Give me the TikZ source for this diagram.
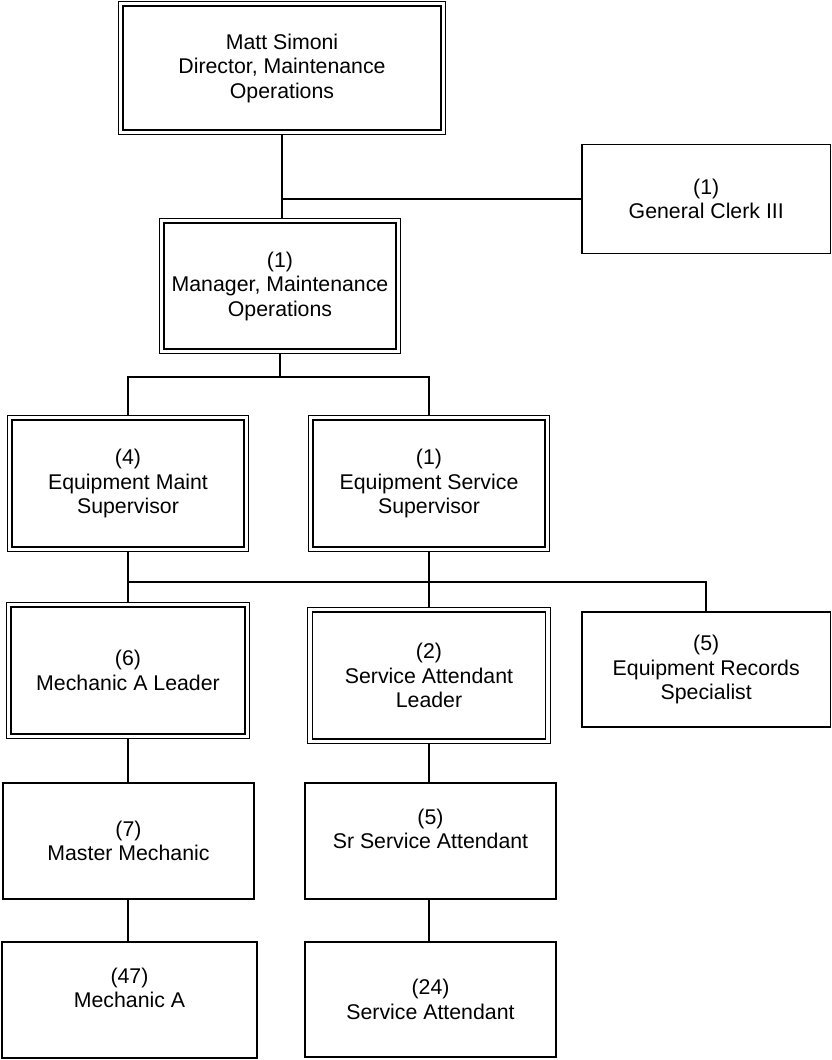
\documentclass[tikz,border=0pt]{standalone}
\usepackage{fontspec}
\setmainfont{Liberation Sans}
\begin{document}
\begin{tikzpicture}[x=1pt,y=1pt,
  box/.style={draw, line width=1.8pt, inner sep=0pt, align=center,
    font=\fontsize{21.3}{24.5}\selectfont},
  conn/.style={line width=1.6pt},
  outerline/.style={line width=1.1pt}]
\useasboundingbox (0,0) rectangle (832,-1060);
% double-framed boxes (inner frame is the node)
\node[box, minimum width=318pt, minimum height=124pt] (dir) at (282,-68)
  {Matt Simoni\\Director, Maintenance\\Operations};
\node[box, minimum width=232pt, minimum height=126pt] (mgr) at (280,-286)
  {(1)\\Manager, Maintenance\\Operations};
\node[box, minimum width=232pt, minimum height=127pt] (eqm) at (128,-483.5)
  {(4)\\Equipment Maint\\Supervisor};
\node[box, minimum width=232pt, minimum height=127pt] (eqs) at (429,-483.5)
  {(1)\\Equipment Service\\Supervisor};
\node[box, minimum width=234pt, minimum height=127pt] (mal) at (128,-670.5)
  {(6)\\Mechanic A Leader};
\node[box, minimum width=233pt, minimum height=127pt] (sal) at (429,-675.5)
  {(2)\\Service Attendant\\Leader};
% single-framed boxes
\node[box, minimum width=248.5pt, minimum height=109pt] (clerk) at (706.25,-199)
  {(1)\\General Clerk III};
\node[box, minimum width=248.5pt, minimum height=115pt] (rec) at (706.25,-669.5)
  {(5)\\Equipment Records\\Specialist};
\node[box, minimum width=251pt, minimum height=116pt] (mm) at (128.5,-841)
  {(7)\\Master Mechanic};
\node[box, minimum width=251pt, minimum height=116pt] (ssa) at (430.5,-841)
  {(5)\\Sr Service Attendant\\~};
\node[box, minimum width=255pt, minimum height=116pt] (ma) at (129.5,-1000)
  {(47)\\Mechanic A\\~};
\node[box, minimum width=251pt, minimum height=115pt] (sa) at (430.5,-999.5)
  {(24)\\Service Attendant};
% outer frames
\foreach \n in {dir,mgr,eqm,eqs,mal,sal}
  \draw[outerline] ([shift={(-4pt,4pt)}]\n.north west) rectangle ([shift={(4pt,-4pt)}]\n.south east);
% bus levels
\coordinate (bus1) at (0,-377);
\coordinate (bus2) at (0,-582);
% connectors
\draw[conn] ([yshift=-4pt]dir.south) -- ([yshift=4pt]dir.south |- mgr.north);
\draw[conn] (dir.south |- clerk.west) -- (clerk.west);
\draw[conn] ([yshift=-4pt]mgr.south) -- (mgr.south |- bus1);
\draw[conn] ([yshift=4pt]eqm.north) -- (eqm.north |- bus1) -- (eqs.north |- bus1) -- ([yshift=4pt]eqs.north);
\draw[conn] ([yshift=-4pt]eqm.south) -- ([yshift=4pt]mal.north);
\draw[conn] ([yshift=-4pt]eqs.south) -- ([yshift=4pt]sal.north);
\draw[conn] (eqm.south |- bus2) -- (rec.north |- bus2) -- (rec.north);
\draw[conn] ([yshift=-4pt]mal.south) -- (mal.south |- mm.north);
\draw[conn] ([yshift=-4pt]sal.south) -- (sal.south |- ssa.north);
\draw[conn] (mal.south |- mm.south) -- (mal.south |- ma.north);
\draw[conn] (sal.south |- ssa.south) -- (sal.south |- sa.north);
\end{tikzpicture}
\end{document}
